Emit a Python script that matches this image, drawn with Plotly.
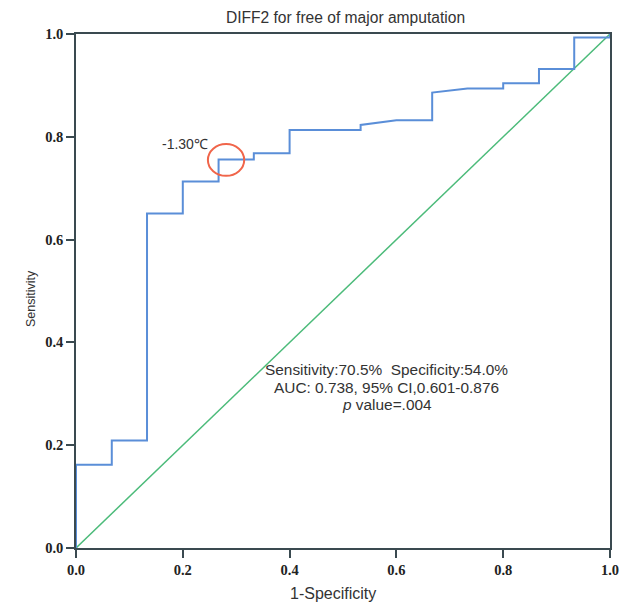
import plotly.graph_objects as go

# ROC curve (1-specificity, sensitivity)
fpr = [0, 0, 0.067, 0.067, 0.133, 0.133, 0.2, 0.2, 0.267, 0.267, 0.333, 0.333,
       0.4, 0.4, 0.533, 0.533, 0.6, 0.667, 0.667, 0.733, 0.8, 0.8, 0.867, 0.867,
       0.933, 0.933, 1.0, 1.0]
tpr = [0, 0.162, 0.162, 0.209, 0.209, 0.651, 0.651, 0.713, 0.713, 0.756, 0.756, 0.768,
       0.768, 0.813, 0.813, 0.823, 0.832, 0.832, 0.886, 0.894, 0.894, 0.904, 0.904, 0.932,
       0.932, 0.993, 0.993, 1.0]
ref_x = [0, 1]
ref_y = [0, 1]
ticks = [0.0, 0.2, 0.4, 0.6, 0.8, 1.0]
tick_labels = ["0.0", "0.2", "0.4", "0.6", "0.8", "1.0"]
cutoff_label = "-1.30℃"
cutoff_point = (0.281, 0.755)
stats_lines = ["Sensitivity:70.5%  Specificity:54.0%",
               "AUC: 0.738, 95% CI,0.601-0.876",
               "<i>p</i> value=.004"]

fig = go.Figure()
fig.add_trace(go.Scatter(x=ref_x, y=ref_y, mode="lines",
                         line=dict(color="#4cbb7a", width=1.5), showlegend=False))
fig.add_trace(go.Scatter(x=fpr, y=tpr, mode="lines",
                         line=dict(color="#5a8ed8", width=2), showlegend=False))

cx, cy = cutoff_point
fig.add_shape(type="circle", xref="x", yref="y",
              x0=cx - 0.034, x1=cx + 0.034, y0=cy - 0.031, y1=cy + 0.031,
              line=dict(color="#f0654a", width=2))

fig.add_annotation(x=0.204, y=0.786, xref="x", yref="y", text=cutoff_label,
                   showarrow=False, font=dict(family="Liberation Sans", size=14, color="#333"))
for t, yy in zip(stats_lines, [0.347, 0.312, 0.280]):
    fig.add_annotation(x=0.582, y=yy, xref="x", yref="y", text=t, showarrow=False,
                       font=dict(family="Liberation Sans", size=15.4, color="#333"))

fig.add_annotation(x=(333 - 76) / 534, y=(548 - 604) / 514, xref="paper", yref="paper",
                   text="1-Specificity", showarrow=False,
                   font=dict(family="Liberation Sans", size=16, color="#333"))
fig.add_annotation(x=(22 - 76) / 534, y=(548 - 299) / 514, xref="paper", yref="paper",
                   text="Sensitivity", textangle=-90, showarrow=False,
                   font=dict(family="Liberation Sans", size=12.5, color="#333"))

axis_common = dict(range=[0, 1], showgrid=False, zeroline=False, showline=True,
                   linecolor="#3a4a50", linewidth=1.5, mirror=True, automargin=False,
                   ticks="outside", ticklen=8, tickwidth=1.5, tickcolor="#3a4a50",
                   tickvals=ticks, ticktext=tick_labels,
                   tickfont=dict(family="Liberation Serif", size=14.5, color="#222", weight="bold"))

fig.update_layout(
    width=622, height=612,
    margin=dict(l=76, r=12, t=34, b=64, autoexpand=False),
    paper_bgcolor="white", plot_bgcolor="white",
    title=dict(text="DIFF2 for free of major amputation", x=345.5 / 622, xanchor="center",
               y=1 - 18 / 612, yanchor="middle",
               font=dict(family="Liberation Sans", size=15.6, color="#333")),
    xaxis=axis_common,
    yaxis=axis_common,
)
fig.write_html("out.html", config={"displayModeBar": False},
               post_script="document.body.style.margin='0';document.body.style.overflow='hidden';")
